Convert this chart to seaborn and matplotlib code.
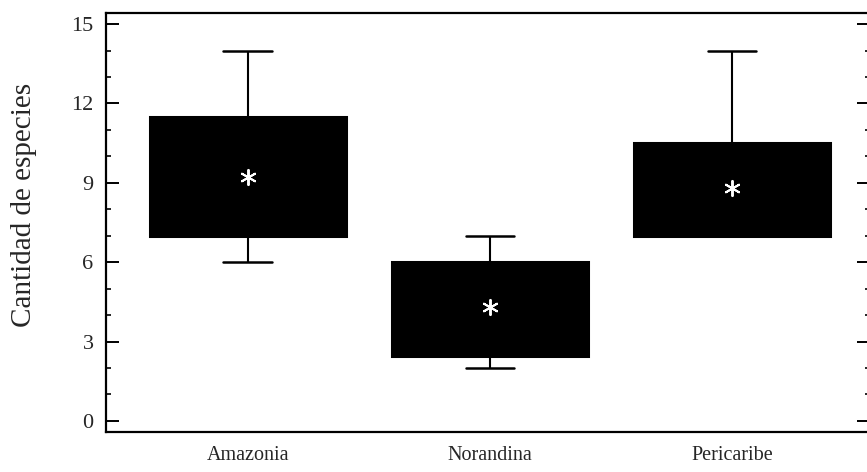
import numpy as np
import pandas as pd
import matplotlib
matplotlib.use("Agg")
import matplotlib.pyplot as plt
import seaborn as sns
from matplotlib.ticker import MultipleLocator

# ---- data ----
regions = ["Amazonia", "Norandina", "Pericaribe"]
whisker_low = [6.0, 2.0, 7.0]
q1 = [7.0, 2.45, 7.0]
median = [9.0, 4.0, 8.5]
q3 = [11.5, 6.0, 10.5]
whisker_high = [14.0, 7.0, 14.0]
means = [9.22, 4.3, 8.8]
y_ticks = [0, 3, 6, 9, 12, 15]
y_label = "Cantidad de especies"

# five-number summaries -> long table (quartiles of 5 values are exactly q1/median/q3)
rows = []
for r, a, b, c, d, e in zip(regions, whisker_low, q1, median, q3, whisker_high):
    for v in (a, b, c, d, e):
        rows.append({"region": r, "value": v})
df = pd.DataFrame(rows)
mean_df = pd.DataFrame({"region": regions, "mean": means})

sns.set_theme(style="ticks")
plt.rcParams["font.family"] = ["Liberation Serif", "DejaVu Serif"]

fig = plt.figure(figsize=(8.67, 4.72), dpi=100)
ax = fig.add_axes([106 / 867, 40 / 472, (870 - 106) / 867, (432 - 12.7) / 472])

sns.boxplot(data=df, x="region", y="value", order=regions, ax=ax,
            whis=np.inf, width=0.81, color="black", saturation=1,
            linecolor="black", linewidth=1.5, showfliers=False)

# shorten whisker caps, keep whiskers/caps behind the filled boxes
for line in ax.lines:
    xd = np.asarray(line.get_xdata(), dtype=float)
    yd = np.asarray(line.get_ydata(), dtype=float)
    if len(xd) == 2 and yd[0] == yd[1] and 0.05 < abs(xd[1] - xd[0]) < 0.7:
        c = xd.mean()
        line.set_xdata([c - 0.1, c + 0.1])
        line.set_linewidth(1.8)
        line.set_zorder(0.5)
    elif len(xd) == 2 and xd[0] == xd[1]:
        line.set_zorder(0.5)
for p in ax.patches:
    p.set_zorder(1.5)
    p.set_linewidth(2.2)

sns.scatterplot(data=mean_df, x="region", y="mean", ax=ax, marker=(6, 2, 0),
                s=120, color="white", edgecolor="white", linewidth=1.4, zorder=5)

ax.set_xlim(-0.585, 2.57)
ax.set_ylim(-0.42, 15.43)
ax.set_yticks(y_ticks)
ax.yaxis.set_minor_locator(MultipleLocator(1))
ax.tick_params(axis="y", which="major", direction="in", length=9.5, width=1.4,
               left=True, right=True, labelsize=16, pad=9, color="black")
ax.tick_params(axis="y", which="minor", direction="in", length=3.5, width=1.2,
               left=True, right=True, color="black")
ax.tick_params(axis="x", length=0, labelsize=14.5, pad=10)
ax.set_xlabel("")
ax.set_ylabel(y_label, fontsize=21)
ax.yaxis.set_label_coords(-0.09, 0.541)
for s in ax.spines.values():
    s.set_linewidth(1.6)
    s.set_color("black")
    s.set_visible(True)

fig.savefig("out.png", dpi=100)
